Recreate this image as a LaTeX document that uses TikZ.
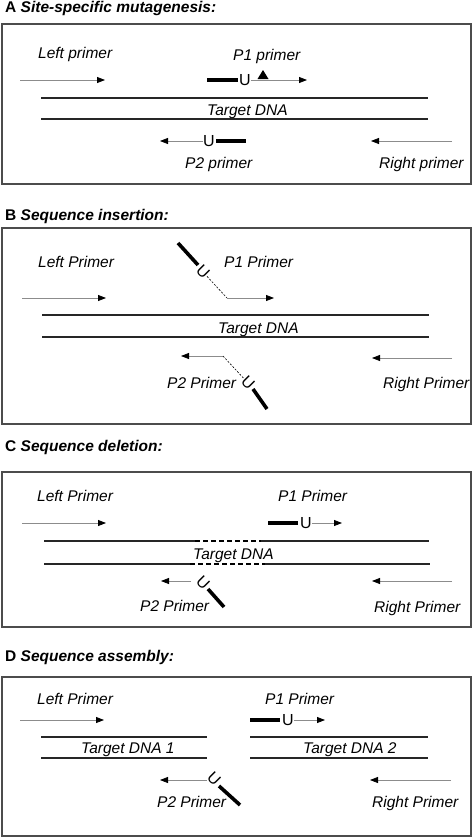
\documentclass[tikz,border=0pt]{standalone}
\usepackage{fontspec}
\setmainfont{Liberation Sans}
\usetikzlibrary{arrows.meta}
\begin{document}
\begin{tikzpicture}[x=1pt,y=-1pt,
  lbl/.style={anchor=base west,inner sep=0pt,font=\fontsize{15.5}{18}\selectfont\itshape},
  ttl/.style={anchor=base west,inner sep=0pt,font=\fontsize{15.5}{18}\selectfont\bfseries},
  panel/.style={draw=black!70,line width=1.4pt},
  dna/.style={draw=black!85,line width=1.2pt},
  primer/.style={draw=black!45,line width=0.8pt,-{Triangle[length=8pt,width=6pt,color=black]}},
  plain/.style={draw=black!45,line width=0.8pt},
  tail/.style={draw=black,line width=3.6pt},
  link/.style={draw=black,line width=0.6pt,dash pattern=on 2pt off 1.5pt},
  gap/.style={draw=black,line width=1.2pt,dash pattern=on 5pt off 3pt},
  uu/.style={inner sep=0pt,font=\fontsize{16}{16}\selectfont}]
\useasboundingbox (0,0) rectangle (474,838);
% ---------------- Panel A ----------------
\node[ttl] (tA) at (5,12) {A \textit{Site-specific mutagenesis:}};
\draw[panel] (2,24) rectangle (471,184);
\node[lbl] (aL) at (38,58) {Left primer};
\node[lbl] (aP1) at (233,60) {P1 primer};
\node[lbl] (aT) at (207,115) {Target DNA};
\node[lbl] (aP2) at (185,168) {P2 primer};
\node[lbl] (aR) at (379,168) {Right primer};
\coordinate (aLs) at (20,80); \coordinate (aLe) at (105,80);
\draw[primer] (aLs) -- (aLe);
\coordinate (aB1) at (207,80); \coordinate (aB2) at (238,80);
\draw[tail] (aB1) -- (aB2);
\node[uu] (aU1) at (245,80) {U};
\coordinate (aP1e) at (307,80);
\draw[primer] (aU1.east) -- (aP1e);
\coordinate (aM) at (263,79);
\fill (aM) ++(-5.5,0) -- ++(11,0) -- ++(-5.5,-9) -- cycle;
\coordinate (aD1a) at (41,98); \coordinate (aD1b) at (428,98);
\coordinate (aD2a) at (41,119); \coordinate (aD2b) at (428,119);
\draw[dna] (aD1a) -- (aD1b); \draw[dna] (aD2a) -- (aD2b);
\node[uu] (aU2) at (209,141) {U};
\coordinate (aP2e) at (160,141);
\draw[primer] (aU2.west) -- (aP2e);
\coordinate (aB3) at (216,141); \coordinate (aB4) at (246,141);
\draw[tail] (aB3) -- (aB4);
\coordinate (aRs) at (452,141); \coordinate (aRe) at (371,141);
\draw[primer] (aRs) -- (aRe);
% ---------------- Panel B ----------------
\node[ttl] (tB) at (5,220) {B \textit{Sequence insertion:}};
\draw[panel] (2,228) rectangle (471,424);
\node[lbl] (bL) at (38,267) {Left Primer};
\node[lbl] (bP1) at (224,267) {P1 Primer};
\node[lbl] (bT) at (218,333) {Target DNA};
\node[lbl] (bP2) at (167,388) {P2 Primer};
\node[lbl] (bR) at (383,388) {Right Primer};
\coordinate (bLs) at (22,298); \coordinate (bLe) at (106,298);
\draw[primer] (bLs) -- (bLe);
\coordinate (bB1) at (178,243); \coordinate (bB2) at (198,265);
\draw[tail] (bB1) -- (bB2);
\node[uu,rotate=-45] (bU1) at (203,272) {U};
\coordinate (bK1) at (227,298); \coordinate (bP1e) at (274,298);
\draw[link] (bU1) -- (bK1);
\draw[primer] (bK1) -- (bP1e);
\coordinate (bD1a) at (42,315); \coordinate (bD1b) at (429,315);
\coordinate (bD2a) at (42,337); \coordinate (bD2b) at (429,337);
\draw[dna] (bD1a) -- (bD1b); \draw[dna] (bD2a) -- (bD2b);
\coordinate (bK2) at (223,356); \coordinate (bP2e) at (181,356);
\draw[primer] (bK2) -- (bP2e);
\node[uu,rotate=-45] (bU2) at (248,383) {U};
\draw[link] (bK2) -- (bU2);
\coordinate (bB3) at (253,389); \coordinate (bB4) at (267,409);
\draw[tail] (bB3) -- (bB4);
\coordinate (bRs) at (452,358); \coordinate (bRe) at (372,358);
\draw[primer] (bRs) -- (bRe);
% ---------------- Panel C ----------------
\node[ttl] (tC) at (5,451) {C \textit{Sequence deletion:}};
\draw[panel] (2,472) rectangle (471,627);
\node[lbl] (cL) at (37,501) {Left Primer};
\node[lbl] (cP1) at (278,501) {P1 Primer};
\node[lbl] (cT) at (193,559) {Target DNA};
\node[lbl] (cP2) at (140,611) {P2 Primer};
\node[lbl] (cR) at (374,612) {Right Primer};
\coordinate (cLs) at (22,523); \coordinate (cLe) at (106,523);
\draw[primer] (cLs) -- (cLe);
\coordinate (cB1) at (268,523); \coordinate (cB2) at (298,523);
\draw[tail] (cB1) -- (cB2);
\node[uu] (cU1) at (306,523) {U};
\coordinate (cP1e) at (342,523);
\draw[primer] (cU1.east) -- (cP1e);
\coordinate (cD1a) at (44,541); \coordinate (cD1b) at (195,541);
\coordinate (cD1c) at (261,541); \coordinate (cD1d) at (429,541);
\coordinate (cD2a) at (44,564); \coordinate (cD2b) at (190,564);
\coordinate (cD2c) at (265,564); \coordinate (cD2d) at (430,564);
\draw[dna] (cD1a) -- (cD1b); \draw[gap] (cD1b) -- (cD1c); \draw[dna] (cD1c) -- (cD1d);
\draw[dna] (cD2a) -- (cD2b); \draw[gap] (cD2b) -- (cD2c); \draw[dna] (cD2c) -- (cD2d);
\coordinate (cK2) at (191,581); \coordinate (cP2e) at (161,581);
\draw[primer] (cK2) -- (cP2e);
\node[uu,rotate=-45] (cU2) at (203,583) {U};
\coordinate (cB3) at (208,589); \coordinate (cB4) at (224,607);
\draw[tail] (cB3) -- (cB4);
\coordinate (cRs) at (452,581); \coordinate (cRe) at (372,581);
\draw[primer] (cRs) -- (cRe);
% ---------------- Panel D ----------------
\node[ttl] (tD) at (5,661) {D \textit{Sequence assembly:}};
\draw[panel] (2,677) rectangle (471,836);
\node[lbl] (dL) at (37,704) {Left Primer};
\node[lbl] (dP1) at (265,704) {P1 Primer};
\node[lbl] (dT1) at (81,753) {Target DNA 1};
\node[lbl] (dT2) at (303,753) {Target DNA 2};
\node[lbl] (dP2) at (157,807) {P2 Primer};
\node[lbl] (dR) at (372,807) {Right Primer};
\coordinate (dLs) at (20,720); \coordinate (dLe) at (104,720);
\draw[primer] (dLs) -- (dLe);
\coordinate (dB1) at (250,720); \coordinate (dB2) at (280,720);
\draw[tail] (dB1) -- (dB2);
\node[uu] (dU1) at (288,720) {U};
\coordinate (dP1e) at (325,720);
\draw[primer] (dU1.east) -- (dP1e);
\coordinate (dA1a) at (41,737); \coordinate (dA1b) at (207,737);
\coordinate (dA2a) at (41,758); \coordinate (dA2b) at (207,758);
\draw[dna] (dA1a) -- (dA1b); \draw[dna] (dA2a) -- (dA2b);
\coordinate (dC1a) at (250,737); \coordinate (dC1b) at (428,737);
\coordinate (dC2a) at (250,758); \coordinate (dC2b) at (428,758);
\draw[dna] (dC1a) -- (dC1b); \draw[dna] (dC2a) -- (dC2b);
\node[uu,rotate=-45] (dU2) at (214,779) {U};
\coordinate (dK2) at (207,780); \coordinate (dP2e) at (160,780);
\draw[primer] (dK2) -- (dP2e);
\coordinate (dB3) at (219,786); \coordinate (dB4) at (240,805);
\draw[tail] (dB3) -- (dB4);
\coordinate (dRs) at (451,780); \coordinate (dRe) at (370,780);
\draw[primer] (dRs) -- (dRe);
\end{tikzpicture}
\end{document}
